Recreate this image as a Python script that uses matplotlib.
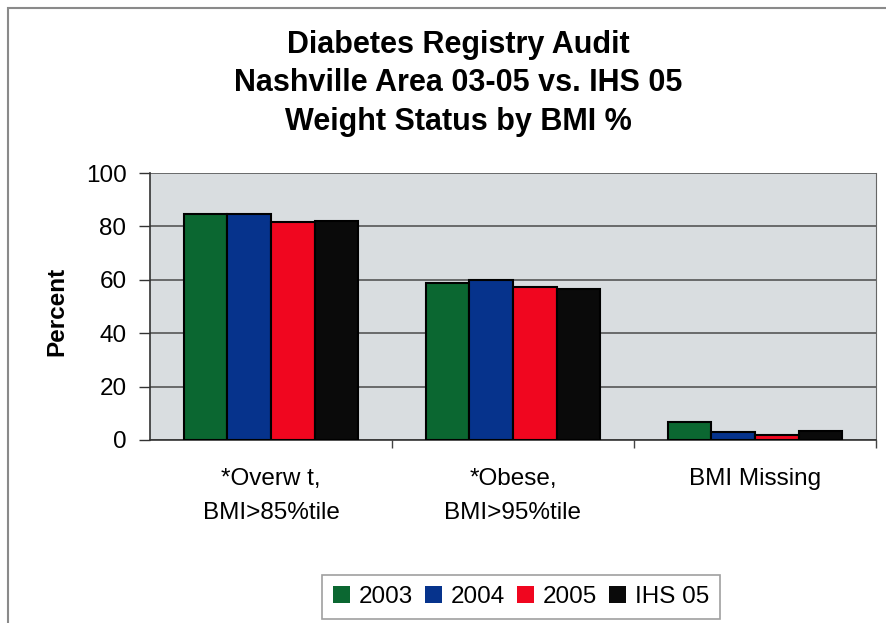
import numpy as np
import matplotlib.pyplot as plt
from matplotlib.patches import Patch, Rectangle

plt.rcParams['font.family'] = ['Liberation Sans', 'DejaVu Sans']

categories = ['*Overw t,\nBMI>85%tile', '*Obese,\nBMI>95%tile', 'BMI Missing']
series = ['2003', '2004', '2005', 'IHS 05']
vals_2003 = [84.5, 58.8, 6.7]
vals_2004 = [84.5, 60.0, 3.0]
vals_2005 = [81.6, 57.2, 2.0]
vals_ihs05 = [82.0, 56.6, 3.2]
colors = ['#0b6731', '#06338c', '#f0061f', '#0a0a0a']

W, H = 886, 623
fig = plt.figure(figsize=(W / 100, H / 100), dpi=100)
ax = fig.add_axes([150 / W, 1 - 440 / H, (876 - 150) / W, (440 - 173) / H])
ax.set_facecolor('#d9dde0')

x = np.arange(len(categories))
w = 0.18
for i, (vals, c) in enumerate(zip([vals_2003, vals_2004, vals_2005, vals_ihs05], colors)):
    ax.bar(x + (i - 1.5) * w, vals, w, color=c, edgecolor='black', linewidth=1.5, zorder=3)

ax.set_xlim(-0.5, 2.5)
ax.set_ylim(0, 100)
ax.set_yticks(range(0, 101, 20))
ax.yaxis.grid(True, color='#4a4a4a', linewidth=1.1, zorder=1)
ax.tick_params(axis='y', labelsize=17.5, length=8, width=1, pad=9, colors='#333333', labelcolor='black')

ax.set_xticks(x)
ax.set_xticklabels(categories, fontsize=17.5, linespacing=1.72)
ax.tick_params(axis='x', which='major', length=0, pad=20)
ax.set_xticks([0.5, 1.5, 2.5], minor=True)
ax.tick_params(axis='x', which='minor', length=6, width=1, colors='#444444')

for side in ['left', 'bottom']:
    ax.spines[side].set_color('#333333')
    ax.spines[side].set_linewidth(1.2)
ax.spines['top'].set_visible(False)
ax.spines['right'].set_color('#666666')

ax.set_ylabel('Percent', fontsize=17.5, fontweight='bold')
ax.yaxis.set_label_coords(-(150 - 68) / (876 - 150), 0.48)

# chart title, three lines
for txt, yp in [('Diabetes Registry Audit', 45),
                ('Nashville Area 03-05 vs. IHS 05', 83),
                ('Weight Status by BMI %', 122)]:
    fig.text(458 / W, 1 - yp / H, txt, ha='center', va='center', fontsize=22, fontweight='bold')

handles = [Patch(facecolor=c, edgecolor='none') for c in colors]
leg = fig.legend(handles, series, loc='upper center', ncol=4,
                 bbox_to_anchor=(521 / W, 1 - 575 / H), fontsize=17.5,
                 frameon=True, fancybox=False, edgecolor='#888888',
                 handlelength=0.7, handleheight=0.7, handletextpad=0.35,
                 columnspacing=0.5, borderpad=0.45, borderaxespad=0)
leg.get_frame().set_linewidth(1.2)

# outer chart frame (left and top edges visible)
fig.add_artist(Rectangle((8 / W, -0.1), 1.2, 1.1 - 8 / H, transform=fig.transFigure,
                         fill=False, edgecolor='#8a8a8a', linewidth=1.5))

fig.savefig('out.png', dpi=100)
